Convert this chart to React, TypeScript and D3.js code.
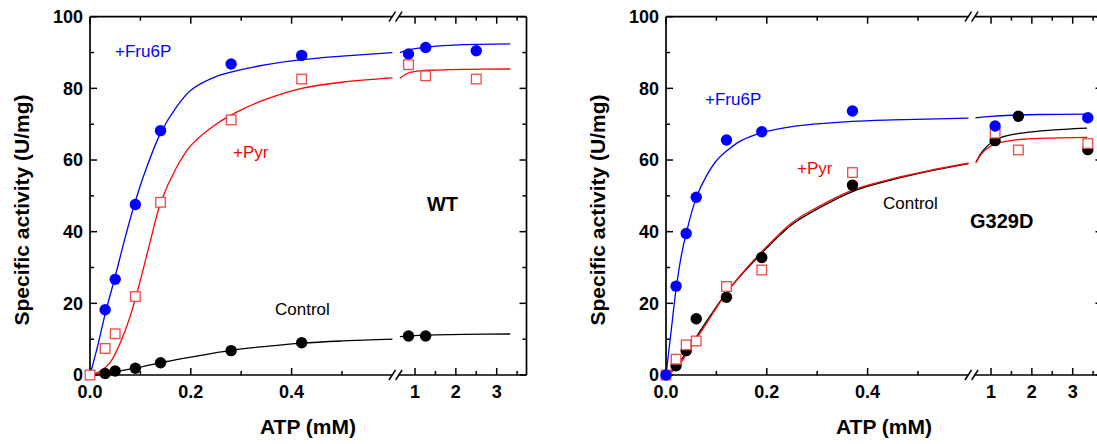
import * as d3 from "d3";

// measured data points (ATP mM, U/mg)
const wtX = [0.03, 0.05, 0.09, 0.14, 0.28, 0.42, 0.84, 1.26, 2.5];
const wtFru6P = [18.2, 26.7, 47.6, 68.2, 86.8, 89.2, 89.6, 91.4, 90.5];
const wtPyrX = [0, 0.03, 0.05, 0.09, 0.14, 0.28, 0.42, 0.84, 1.26, 2.5];
const wtPyr = [0, 7.4, 11.5, 21.9, 48.2, 71.2, 82.6, 86.6, 83.5, 82.6];
const wtCtrlX = [0.03, 0.05, 0.09, 0.14, 0.28, 0.42, 0.84, 1.26];
const wtControl = [0.4, 1.1, 1.9, 3.4, 6.8, 9.0, 10.9, 10.9];

const mutFruX = [0, 0.02, 0.04, 0.06, 0.12, 0.19, 0.37, 1.1, 3.37];
const mutFru6P = [0, 24.8, 39.5, 49.6, 65.6, 67.9, 73.7, 69.5, 71.8];
const mutPyrX = [0, 0.02, 0.04, 0.06, 0.12, 0.19, 0.37, 1.1, 1.67, 3.37];
const mutPyr = [0, 4.4, 8.4, 9.5, 24.7, 29.3, 56.5, 67.5, 62.8, 64.6];
const mutCtrlX = [0.02, 0.04, 0.06, 0.12, 0.19, 0.37, 1.1, 1.67, 3.37];
const mutControl = [2.6, 6.8, 15.7, 21.7, 32.8, 53.0, 65.4, 72.2, 62.9];

// fitted curves (low part 0-0.6, high part after the break)
const wtFru6PFit = [[0, 0], [0.015, 8], [0.03, 17], [0.05, 27.5], [0.07, 38.5], [0.09, 48.5], [0.11, 57], [0.14, 67.5], [0.17, 74.5], [0.2, 79.5], [0.25, 83.3], [0.3, 85.2], [0.35, 86.6], [0.42, 88], [0.5, 89], [0.6, 90]];
const wtFru6PFitHi = [[0.63, 90.0], [0.8, 90.6], [1.0, 91.1], [1.3, 91.5], [1.7, 91.9], [2.2, 92.2], [3.33, 92.4]];
const wtPyrFit = [[0, 0], [0.02, 1], [0.04, 3.5], [0.06, 9], [0.08, 16.5], [0.1, 26.5], [0.12, 37.5], [0.14, 48], [0.17, 57.5], [0.2, 64], [0.25, 70], [0.3, 74], [0.35, 77], [0.42, 80], [0.5, 81.7], [0.6, 82.9]];
const wtPyrFitHi = [[0.63, 82.8], [0.75, 83.8], [0.9, 84.5], [1.1, 84.9], [1.5, 85.1], [2.2, 85.3], [3.33, 85.4]];
const wtCtrlFit = [[0, 0], [0.05, 0.9], [0.1, 2.2], [0.15, 3.7], [0.2, 5.0], [0.28, 6.9], [0.35, 8.0], [0.42, 8.9], [0.5, 9.5], [0.6, 10.0]];
const wtCtrlFitHi = [[0.63, 10.7], [1.0, 11.0], [1.5, 11.2], [2.2, 11.35], [3.33, 11.45]];

const mutFru6PFit = [[0, 0], [0.01, 12], [0.02, 24], [0.03, 33], [0.04, 39.5], [0.06, 49.5], [0.08, 55.5], [0.1, 59.8], [0.12, 62.5], [0.15, 65.5], [0.19, 67.6], [0.25, 69.3], [0.3, 70.1], [0.37, 70.8], [0.45, 71.2], [0.6, 71.7]];
const mutFru6PFitHi = [[0.62, 71.8], [1.0, 72.2], [1.5, 72.5], [2.2, 72.7], [3.35, 72.8]];
const mutPyrFit = [[0, 0], [0.02, 1.8], [0.04, 5.6], [0.06, 10.0], [0.09, 16.6], [0.12, 22.9], [0.15, 28.2], [0.19, 34.4], [0.25, 42.5], [0.3, 46.8], [0.37, 51.6], [0.45, 54.8], [0.52, 57.0], [0.6, 59.1]];
const mutPyrFitHi = [[0.63, 59.3], [0.75, 61.5], [0.9, 63.2], [1.1, 64.5], [1.4, 65.3], [1.8, 65.8], [2.4, 66.1], [3.35, 66.3]];
const mutCtrlFit = [[0, 0], [0.02, 2.4], [0.04, 6.3], [0.06, 10.6], [0.09, 17], [0.12, 23], [0.15, 28], [0.19, 34], [0.25, 42], [0.3, 46.3], [0.37, 51.2], [0.45, 54.5], [0.52, 56.8], [0.6, 59.0]];
const mutCtrlFitHi = [[0.63, 59.3], [0.75, 61.8], [0.9, 63.8], [1.1, 65.6], [1.4, 66.8], [1.8, 67.6], [2.4, 68.3], [3.35, 68.9]];

const yTicks = [0, 20, 40, 60, 80, 100];
const yMinor = [10, 30, 50, 70, 90];
const xTicksLow = [0, 0.2, 0.4];
const xTickLabelsLow = ["0.0", "0.2", "0.4"];
const xMinorLow = [0.1, 0.3, 0.5];
const xTicksHigh = [1, 2, 3];
const xMinorHigh = [1.5, 2.5, 3.5];

const BLUE = "#0000ff";
const RED = "#ff0000";
const SQ = "#f04848";
const FONT = "'Liberation Sans', Arial, Helvetica, sans-serif";

const TOP = 16.7;
const BOTTOM = 375;
const W = 436.5;
const BREAK_LO = 302.4;
const BREAK_HI = 308.7;

const y = d3.scaleLinear().domain([0, 100]).range([BOTTOM, TOP]);
const xLow = d3.scaleLinear().domain([0, 0.6]).range([0, BREAK_LO]);
const xHigh = d3.scaleLinear().domain([0.6, 3.73]).range([BREAK_HI, W]);
const xs = (v: number) => (v <= 0.6 ? xLow(v) : xHigh(v));

const line = d3
  .line<number[]>()
  .x(d => xs(d[0]))
  .y(d => y(d[1]))
  .curve(d3.curveCatmullRom.alpha(0.5));

type Series = { xs: number[]; ys: number[]; kind: "dot" | "square"; color: string };

function Panel(props: {
  left: number;
  fits: { low: number[][]; high: number[][]; color: string }[];
  series: Series[];
  labels: { text: string; x: number; y: number; color: string; size: number; bold?: boolean; anchor?: string }[];
}) {
  const { left, fits, series, labels } = props;
  const xc = (BREAK_LO + BREAK_HI) / 2;
  const slash = (x0: number, yy: number, k: number) => (
    <line key={`s${yy}${k}`} x1={x0 - 3.3} y1={yy + 5} x2={x0 + 3.3} y2={yy - 5} stroke="#000" strokeWidth={1.5} />
  );
  return (
    <g transform={`translate(${left},0)`}>
      {/* fitted curves */}
      {fits.map((f, i) => (
        <g key={i} fill="none" stroke={f.color} strokeWidth={1.3}>
          <path d={line(f.low) || ""} />
          <path d={line(f.high) || ""} />
        </g>
      ))}

      {/* frame with break */}
      <g stroke="#000" strokeWidth={1.7} fill="none">
        <line x1={0} y1={TOP} x2={0} y2={BOTTOM} />
        <line x1={W} y1={TOP} x2={W} y2={BOTTOM} />
        <line x1={0} y1={BOTTOM} x2={xc - 3.3} y2={BOTTOM} />
        <line x1={xc + 3.3} y1={BOTTOM} x2={W} y2={BOTTOM} />
        <line x1={0} y1={TOP} x2={xc - 3.3} y2={TOP} />
        <line x1={xc + 3.3} y1={TOP} x2={W} y2={TOP} />
      </g>
      {[BOTTOM, TOP].map(yy => [slash(xc - 3.3, yy, 0), slash(xc + 3.3, yy, 1)])}

      {/* ticks */}
      <g stroke="#000" strokeWidth={1.5}>
        {yTicks.map(t => (
          <g key={`y${t}`}>
            <line x1={0} x2={7} y1={y(t)} y2={y(t)} />
            <line x1={W} x2={W - 7} y1={y(t)} y2={y(t)} />
          </g>
        ))}
        {yMinor.map(t => (
          <g key={`ym${t}`}>
            <line x1={0} x2={4} y1={y(t)} y2={y(t)} />
            <line x1={W} x2={W - 4} y1={y(t)} y2={y(t)} />
          </g>
        ))}
        {[...xTicksLow, ...xTicksHigh].map(t => (
          <g key={`x${t}`}>
            <line x1={xs(t)} x2={xs(t)} y1={BOTTOM} y2={BOTTOM - 7} />
            <line x1={xs(t)} x2={xs(t)} y1={TOP} y2={TOP + 7} />
          </g>
        ))}
        {[...xMinorLow, ...xMinorHigh].map(t => (
          <g key={`xm${t}`}>
            <line x1={xs(t)} x2={xs(t)} y1={BOTTOM} y2={BOTTOM - 4} />
            <line x1={xs(t)} x2={xs(t)} y1={TOP} y2={TOP + 4} />
          </g>
        ))}
      </g>

      {/* tick labels */}
      <g fontFamily={FONT} fontWeight="bold" fontSize={18} fill="#000">
        {yTicks.map(t => (
          <text key={`yl${t}`} x={-7} y={y(t)} dy="0.35em" textAnchor="end">
            {t}
          </text>
        ))}
        {xTicksLow.map((t, i) => (
          <text key={`xl${t}`} x={xs(t)} y={398} textAnchor="middle">
            {xTickLabelsLow[i]}
          </text>
        ))}
        {xTicksHigh.map(t => (
          <text key={`xh${t}`} x={xs(t)} y={398} textAnchor="middle">
            {t}
          </text>
        ))}
        <text x={218} y={434} textAnchor="middle" fontSize={21}>
          ATP (mM)
        </text>
        <text transform={`translate(${-68},${210}) rotate(-90)`} dy="0.35em" textAnchor="middle" fontSize={21}>
          Specific activity (U/mg)
        </text>
      </g>

      {/* series labels */}
      {labels.map(l => (
        <text
          key={l.text}
          x={l.x}
          y={l.y}
          dy="0.35em"
          fontFamily={FONT}
          fontSize={l.size}
          fontWeight={l.bold ? "bold" : "normal"}
          fill={l.color}
          textAnchor={l.anchor || "start"}
        >
          {l.text}
        </text>
      ))}

      {/* markers */}
      {series.map((s, i) => (
        <g key={`m${i}`}>
          {s.xs.map((xv, j) =>
            s.kind === "dot" ? (
              <circle key={j} cx={xs(xv)} cy={y(s.ys[j])} r={5.7} fill={s.color} />
            ) : (
              <rect
                key={j}
                x={xs(xv) - 4.8}
                y={y(s.ys[j]) - 4.8}
                width={9.6}
                height={9.6}
                fill="#fff"
                stroke={SQ}
                strokeWidth={1.3}
              />
            )
          )}
        </g>
      ))}
    </g>
  );
}

export default function App() {
  return (
    <div style={{ position: "absolute", left: 0, top: 0 }}>
      <svg width={1097} height={444} style={{ display: "block", background: "#fff" }}>
        <Panel
          left={90}
          fits={[
            { low: wtCtrlFit, high: wtCtrlFitHi, color: "#000" },
            { low: wtPyrFit, high: wtPyrFitHi, color: RED },
            { low: wtFru6PFit, high: wtFru6PFitHi, color: BLUE },
          ]}
          series={[
            { xs: wtCtrlX, ys: wtControl, kind: "dot", color: "#000" },
            { xs: wtX, ys: wtFru6P, kind: "dot", color: BLUE },
            { xs: wtPyrX, ys: wtPyr, kind: "square", color: SQ },
          ]}
          labels={[
            { text: "+Fru6P", x: 25, y: 50.7, color: BLUE, size: 17 },
            { text: "+Pyr", x: 143, y: 151.7, color: RED, size: 17 },
            { text: "Control", x: 185, y: 309.3, color: "#000", size: 17 },
            { text: "WT", x: 352.5, y: 204, color: "#000", size: 20, bold: true, anchor: "middle" },
          ]}
        />
        <Panel
          left={666}
          fits={[
            { low: mutCtrlFit, high: mutCtrlFitHi, color: "#000" },
            { low: mutPyrFit, high: mutPyrFitHi, color: RED },
            { low: mutFru6PFit, high: mutFru6PFitHi, color: BLUE },
          ]}
          series={[
            { xs: mutCtrlX, ys: mutControl, kind: "dot", color: "#000" },
            { xs: mutPyrX, ys: mutPyr, kind: "square", color: SQ },
            { xs: mutFruX, ys: mutFru6P, kind: "dot", color: BLUE },
          ]}
          labels={[
            { text: "+Fru6P", x: 39, y: 99.3, color: BLUE, size: 17 },
            { text: "+Pyr", x: 131, y: 168.3, color: RED, size: 17 },
            { text: "Control", x: 217, y: 202.7, color: "#000", size: 17 },
            { text: "G329D", x: 335.7, y: 220.7, color: "#000", size: 20, bold: true, anchor: "middle" },
          ]}
        />
      </svg>
    </div>
  );
}
